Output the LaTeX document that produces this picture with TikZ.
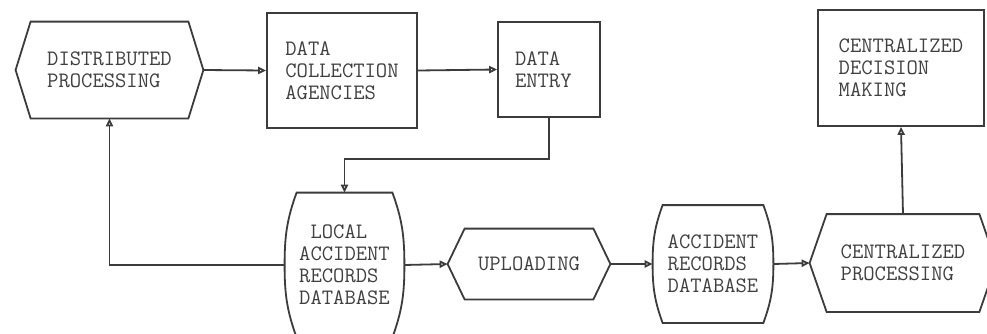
\documentclass[tikz,border=0pt]{standalone}
\usepackage{xcolor}
\usepackage{tikz}
\usetikzlibrary{arrows.meta}

\definecolor{inkline}{HTML}{3C3C3C}
\definecolor{inktext}{HTML}{404040}

\begin{document}
\begin{tikzpicture}[x=0.5pt,y=0.5pt,
    lbl/.style={font=\fontsize{11}{11}\selectfont\ttfamily, align=left, inner sep=0pt, text=inktext},
    box/.style={lbl, draw=inkline, line width=0.9pt},
    outline/.style={draw=inkline, line width=0.9pt, line join=miter},
    flow/.style={draw=inkline, line width=0.9pt, -{Triangle[open,length=4pt,width=3.6pt]}}]
    \useasboundingbox[fill=white] (0,0) rectangle (987,-333);

    \node[lbl, minimum width=93.5pt, minimum height=48pt] (dist) at (109.5,-70) {DISTRIBUTED\\PROCESSING};
    \node[box, minimum width=75pt, minimum height=57.5pt] (collect) at (342,-70.5) {DATA\\COLLECTION\\AGENCIES};
    \node[box, text width=34pt, inner xsep=8.5pt, minimum height=47.5pt] (entry) at (549,-69.5) {DATA\\ENTRY};
    \node[box, minimum width=83pt, minimum height=58pt] (decide) at (901,-68) {CENTRALIZED\\DECISION\\MAKING};
    \node[lbl, minimum width=59.5pt, minimum height=72pt] (localdb) at (344.5,-265) {\phantom{L}LOCAL\\ACCIDENT\\RECORDS\\DATABASE};
    \node[lbl, minimum width=81pt, minimum height=35pt] (upload) at (529,-264) {UPLOADING};
    \node[lbl, minimum width=60pt, minimum height=58.5pt] (recdb) at (713,-264) {ACCIDENT\\RECORDS\\DATABASE};
    \node[lbl, minimum width=93pt, minimum height=48.5pt] (cproc) at (903,-263) {CENTRALIZED\\PROCESSING};

    % process hexagons
    \foreach \n/\d in {dist/7.5pt, upload/8.5pt, cproc/8.5pt}
        \draw[outline] (\n.west) -- ([xshift=\d]\n.north west) -- ([xshift=-\d]\n.north east)
            -- (\n.east) -- ([xshift=-\d]\n.south east) -- ([xshift=\d]\n.south west) -- cycle;

    % database barrels
    \foreach \n/\d in {localdb/6pt, recdb/5pt}
        \draw[outline] ([xshift=\d]\n.north west) -- ([xshift=-\d]\n.north east)
            to[out=-70,in=90] (\n.east) to[out=-90,in=70] ([xshift=-\d]\n.south east)
            -- ([xshift=\d]\n.south west) to[out=110,in=-90] (\n.west) to[out=90,in=-110] cycle;

    \draw[flow] (dist.east) -- (collect.west);
    \draw[flow] (collect.east) -- (entry.west);
    \draw[flow] (entry.south) -- ++(0,-41) -| (localdb.north);
    \draw[flow] (localdb.west) -| (dist.south);
    \draw[flow] (localdb.east) -- (upload.west);
    \draw[flow] (upload.east) -- (recdb.west);
    \draw[flow] (recdb.east) -- (cproc.west);
    \draw[flow] (cproc.north) -- (decide.south);
\end{tikzpicture}
\end{document}
